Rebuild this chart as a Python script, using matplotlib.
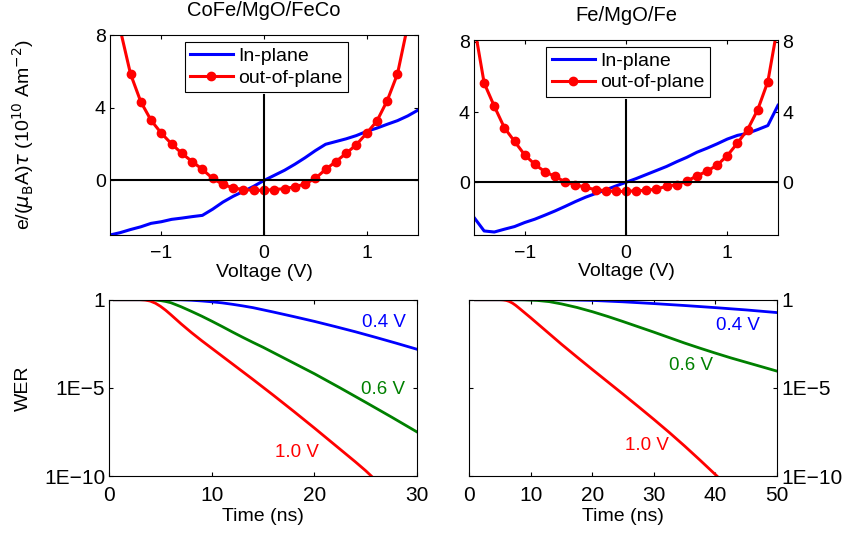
"""
Spin-transfer torque vs voltage and write error rate vs pulse time
for CoFe/MgO/FeCo and Fe/MgO/Fe junctions.
"""

import numpy as np
import matplotlib
matplotlib.use('Agg')
import matplotlib.pyplot as plt
from matplotlib.ticker import FixedLocator, NullLocator

plt.rcParams['font.family'] = ['Liberation Sans', 'DejaVu Sans']
plt.rcParams['font.size'] = 14

# ---- torque vs voltage (10^10 A m^-2) ----
voltage = [-1.5, -1.4, -1.3, -1.2, -1.1, -1.0, -0.9, -0.8, -0.7, -0.6, -0.5,
           -0.4, -0.3, -0.2, -0.1, 0.0, 0.1, 0.2, 0.3, 0.4, 0.5,
           0.6, 0.7, 0.8, 0.9, 1.0, 1.1, 1.2, 1.3, 1.4, 1.5]

cofe_in = [-3.0, -2.87, -2.70, -2.55, -2.36, -2.27, -2.14, -2.07, -1.99, -1.92, -1.58,
           -1.19, -0.87, -0.60, -0.32, 0.0, 0.28, 0.56, 0.89, 1.25, 1.64,
           1.99, 2.14, 2.29, 2.47, 2.70, 2.88, 3.09, 3.29, 3.55, 3.87]
cofe_out = [12.0, 8.3, 5.86, 4.33, 3.31, 2.60, 2.01, 1.49, 1.04, 0.61, 0.11,
            -0.22, -0.41, -0.50, -0.54, -0.54, -0.50, -0.45, -0.35, -0.19, 0.11,
            0.61, 1.04, 1.49, 1.97, 2.60, 3.27, 4.39, 5.86, 8.54, 12.0]

fe_in = [-2.0, -2.77, -2.83, -2.67, -2.52, -2.29, -2.10, -1.87, -1.63, -1.37, -1.10,
         -0.85, -0.64, -0.43, -0.21, 0.0, 0.21, 0.44, 0.67, 0.90, 1.17,
         1.42, 1.71, 1.94, 2.19, 2.46, 2.67, 2.79, 3.0, 3.23, 4.38]
fe_out = [9.0, 5.65, 4.33, 3.10, 2.33, 1.56, 1.02, 0.60, 0.33, 0.02, -0.13,
          -0.29, -0.42, -0.48, -0.52, -0.52, -0.48, -0.46, -0.38, -0.23, -0.13,
          0.06, 0.37, 0.63, 0.98, 1.52, 2.23, 3.0, 4.13, 5.73, 9.0]

# ---- write error rate, stored as log10(WER) ----
cofe_t_04 = [0.5, 6, 7, 8, 9, 10, 11, 12, 13, 14, 16, 18, 20, 22, 24, 26, 28, 30]
cofe_wer_04 = [0, 0, -0.008, -0.03, -0.07, -0.12, -0.18, -0.26, -0.35, -0.45, -0.70,
               -0.96, -1.23, -1.52, -1.82, -2.14, -2.47, -2.81]
cofe_t_06 = [0.5, 3.8, 4.5, 5, 5.5, 6, 7, 8, 9, 10, 11, 12, 13, 14, 15,
             17.5, 20, 22.5, 25, 27.5, 30]
cofe_wer_06 = [0, 0, -0.02, -0.05, -0.10, -0.17, -0.40, -0.66, -0.93, -1.22, -1.52,
               -1.83, -2.13, -2.42, -2.70, -3.45, -4.20, -5.00, -5.82, -6.65, -7.50]
cofe_t_10 = [0.5, 3.0, 3.5, 4, 4.5, 5, 5.5, 6, 7, 8, 9, 10, 12, 14, 16, 18, 20,
             21.5, 23, 24, 25, 26]
cofe_wer_10 = [0, 0, -0.02, -0.08, -0.20, -0.38, -0.60, -0.85, -1.37, -1.86, -2.32,
               -2.76, -3.64, -4.52, -5.42, -6.34, -7.28, -8.0, -8.72, -9.2, -9.7, -10.25]

fe_t_04 = [1, 12, 16, 20, 25, 30, 35, 40, 45, 50]
fe_wer_04 = [0, 0, -0.01, -0.04, -0.12, -0.22, -0.33, -0.45, -0.58, -0.73]
fe_t_06 = [1, 7, 9, 11, 13, 15, 17.5, 20, 22.5, 25, 27.5, 30, 32.5, 35, 37.5,
           40, 42.5, 45, 47.5, 50]
fe_wer_06 = [0, 0, -0.01, -0.04, -0.11, -0.24, -0.44, -0.68, -0.95, -1.24, -1.54,
             -1.84, -2.15, -2.46, -2.75, -3.03, -3.30, -3.55, -3.80, -4.05]
fe_t_10 = [1, 5, 5.5, 6, 6.5, 7, 7.5, 8, 9, 10, 12.5, 15, 17.5, 20, 22.5, 25,
           27.5, 30, 32.5, 35, 37.5, 40, 41]
fe_wer_10 = [0, 0, -0.01, -0.04, -0.10, -0.19, -0.31, -0.45, -0.74, -1.03, -1.78,
             -2.53, -3.25, -3.96, -4.66, -5.36, -6.07, -6.79, -7.53, -8.30, -9.10,
             -9.92, -10.25]

# label positions (time, log10 WER)
cofe_labels = [(26.8, -1.32, '0.4 V'), (26.7, -5.07, '0.6 V'), (18.3, -8.65, '1.0 V')]
fe_labels = [(43.6, -1.44, '0.4 V'), (36.0, -3.71, '0.6 V'), (28.8, -8.26, '1.0 V')]

BLUE = (0, 0, 1)
GREEN = (0, 0.5, 0)
RED = (1, 0, 0)


def style_axes(ax, tick_size):
    """MATLAB-like box with inward ticks on every side."""
    for sp in ax.spines.values():
        sp.set_linewidth(0.8)
        sp.set_color('black')
    ax.tick_params(direction='in', length=3, width=0.8, top=True, right=True,
                   labelsize=tick_size)


def plt_torque(ax, t_in, t_out, title, ylim):
    """Torque vs voltage panel with in-plane and out-of-plane curves."""
    ax.plot(voltage, t_in, color=BLUE, lw=2.2, label='In-plane')
    ax.plot(voltage, t_out, color=RED, lw=2.2, marker='o', ms=6, label='out-of-plane')
    ax.axhline(0, color='black', lw=1.5)
    ax.plot([0, 0], [ylim[0], 4.7], color='black', lw=1.5)
    ax.set_xlim(-1.5, 1.5)
    ax.set_ylim(*ylim)
    ax.set_xticks([-1, 0, 1])
    ax.set_yticks([0, 4, 8])
    style_axes(ax, 14)
    ax.tick_params(axis='x', pad=7)
    ax.tick_params(axis='y', pad=3)
    ax.set_title(title, fontsize=14.5, pad=14)
    ax.set_xlabel('Voltage (V)', fontsize=14)
    ax.xaxis.set_label_coords(0.5, -0.145)
    leg = ax.legend(loc='upper center', bbox_to_anchor=(0.508, 0.965), fontsize=14,
                    fancybox=False, framealpha=1, edgecolor='black', numpoints=1,
                    handlelength=2.2, handletextpad=0.3, labelspacing=0.2,
                    borderpad=0.28, borderaxespad=0)
    leg.get_frame().set_linewidth(0.8)


def plt_wer(ax, curves, labels, xmax, xticks):
    """Write error rate vs time panel on a log axis."""
    for t, w, c in curves:
        ax.plot(t, 10.0 ** np.array(w), color=c, lw=2.0)
    for (x, y, s), c in zip(labels, [BLUE, GREEN, RED]):
        ax.text(x, 10.0 ** y, s, color=c, fontsize=13.5, ha='center', va='center')
    ax.set_yscale('log')
    ax.set_xlim(0, xmax)
    ax.set_ylim(1e-10, 1)
    ax.set_xticks(xticks)
    ax.yaxis.set_major_locator(FixedLocator([1e-10, 1e-5, 1]))
    ax.yaxis.set_minor_locator(NullLocator())
    ax.set_yticklabels(['1E\u221210', '1E\u22125', '1'])
    style_axes(ax, 15)
    ax.tick_params(axis='x', pad=7)
    ax.tick_params(axis='y', pad=3)
    ax.set_xlabel('Time (ns)', fontsize=14)
    ax.xaxis.set_label_coords(0.5, -0.18)


fig = plt.figure(figsize=(8.46, 5.33), dpi=100)

ax_tl = fig.add_axes([0.1300, 0.5591, 0.3641, 0.3752])
ax_tr = fig.add_axes([0.5603, 0.5591, 0.3593, 0.3659])
ax_bl = fig.add_axes([0.1292, 0.1069, 0.3637, 0.3308])
ax_br = fig.add_axes([0.5547, 0.1069, 0.3637, 0.3308])

plt_torque(ax_tl, cofe_in, cofe_out, 'CoFe/MgO/FeCo', (-3, 8))
ax_tl.set_ylabel(r'e/($\mu_{\rm B}$A)$\tau$ (10$^{10}$ Am$^{-2}$)', fontsize=14)
ax_tl.yaxis.set_label_coords(-0.24, 0.5)

plt_torque(ax_tr, fe_in, fe_out, 'Fe/MgO/Fe', (-3, 8.1))
ax_tr.tick_params(axis='y', labelright=True)

plt_wer(ax_bl, [(cofe_t_04, cofe_wer_04, BLUE), (cofe_t_06, cofe_wer_06, GREEN),
                (cofe_t_10, cofe_wer_10, RED)], cofe_labels, 30, [0, 10, 20, 30])
ax_bl.set_ylabel('WER', fontsize=14)
ax_bl.yaxis.set_label_coords(-0.251, 0.5)

plt_wer(ax_br, [(fe_t_04, fe_wer_04, BLUE), (fe_t_06, fe_wer_06, GREEN),
                (fe_t_10, fe_wer_10, RED)], fe_labels, 50, [0, 10, 20, 30, 40, 50])
ax_br.tick_params(axis='y', labelleft=False, labelright=True)

fig.savefig('out.png', dpi=100)
